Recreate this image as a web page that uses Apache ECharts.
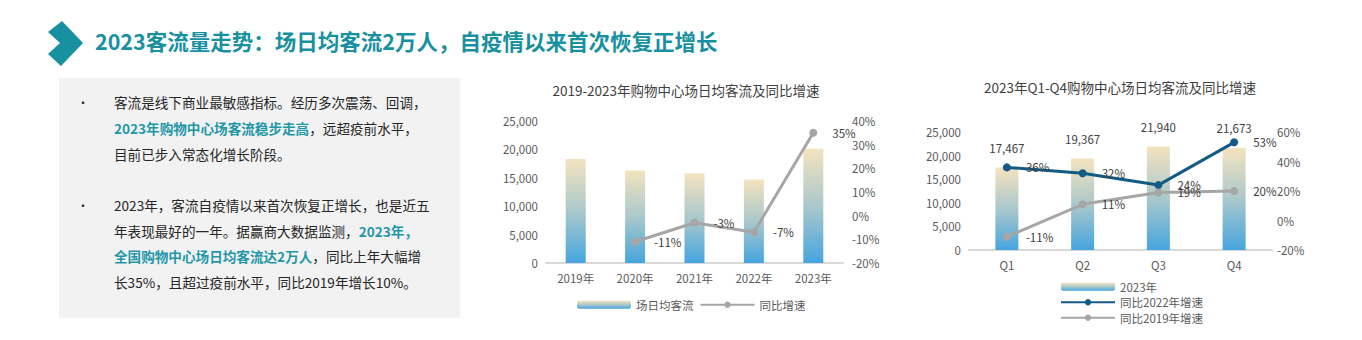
<!DOCTYPE html>
<html><head><meta charset="utf-8">
<script src="https://cdn.jsdelivr.net/npm/echarts@6/dist/echarts.min.js"></script>
<style>html,body{margin:0;padding:0;background:#fff}#c{width:1362px;height:340px}</style>
</head><body><div id="c"></div>
<script>
// ---- data ----
const years = ['2019年','2020年','2021年','2022年','2023年'];
const yearFlow = [18300, 16300, 15800, 14700, 20100];
const yearYoY = [null, -11, -3, -7, 35];
const quarters = ['Q1','Q2','Q3','Q4'];
const qFlow = [17467, 19367, 21940, 21673];
const qYoY2022 = [36, 32, 24, 53];
const qYoY2019 = [-11, 11, 19, 20];
const leftTicks = {min:0, max:25000, interval:5000};
const right1Ticks = {min:-20, max:40, interval:10};
const right2Ticks = {min:-20, max:60, interval:20};

const FONT = "'Noto Sans CJK SC', sans-serif";
const TEAL = '#17909f';
const HL = '#1f97a8';
const TXT = '#262626';
const AX = '#595959';

const barGrad = new echarts.graphic.LinearGradient(0,0,0,1,[
  {offset:0,color:'#f4e3bf'},{offset:0.5,color:'#aac8cb'},{offset:1,color:'#45a5df'}]);

const fmtK = v => v.toString().replace(/\B(?=(\d{3})+(?!\d))/g, ',');

function yLeft(gi, ticks){
  return {type:'value', gridIndex:gi, position:'left', min:ticks.min, max:ticks.max, interval:ticks.interval,
    axisLine:{show:false}, axisTick:{show:false}, splitLine:{show:false},
    axisLabel:{color:AX, fontSize:11.5, fontFamily:FONT, margin:8, formatter:fmtK}};
}
function yRight(gi, ticks, m){
  return {type:'value', gridIndex:gi, position:'right', min:ticks.min, max:ticks.max, interval:ticks.interval,
    axisLine:{show:false}, axisTick:{show:false}, splitLine:{show:false},
    axisLabel:{color:AX, fontSize:11.5, fontFamily:FONT, margin:m, formatter:'{value}%'}};
}
function xCat(gi, data){
  return {type:'category', gridIndex:gi, data:data,
    axisLine:{lineStyle:{color:'#d9d9d9', width:2}}, axisTick:{show:false},
    axisLabel:{color:AX, fontSize:11.5, fontFamily:FONT, margin:9}};
}

// left text panel lines
const bodyLines = [
  {y:104, t:'客流是线下商业最敏感指标。经历多次震荡、回调，'},
  {y:130, t:'{h|2023年购物中心场客流稳步走高}，远超疫前水平，'},
  {y:156, t:'目前已步入常态化增长阶段。'},
  {y:207, t:'2023年，客流自疫情以来首次恢复正增长，也是近五'},
  {y:233, t:'年表现最好的一年。据赢商大数据监测，{h|2023年，}'},
  {y:258, t:'{h|全国购物中心场日均客流达2万人}，同比上年大幅增'},
  {y:284, t:'长35%，且超过疫前水平，同比2019年增长10%。'}
];

const graphics = [
  {type:'polygon', shape:{points:[[62,21],[83,43],[61,66],[48,54],[60,43],[48,32]]}, style:{fill:TEAL}},
  {type:'text', left:95, top:30, style:{text:'2023客流量走势：场日均客流2万人，自疫情以来首次恢复正增长',
    fill:TEAL, font:'bold 21.5px '+FONT}},
  {type:'rect', shape:{x:59, y:78, width:401, height:240}, style:{fill:'#f2f2f2'}, z:-1},
  {type:'text', left:77, top:96, style:{text:'•', fill:TXT, font:'12px '+FONT}},
  {type:'text', left:77, top:199, style:{text:'•', fill:TXT, font:'12px '+FONT}}
];
bodyLines.forEach(l => graphics.push({type:'text', left:114, top:l.y-9,
  style:{text:l.t, fill:TXT, font:'13.6px '+FONT,
    rich:{h:{fill:HL, fontWeight:'bold', fontSize:13.6, fontFamily:FONT}}}}));

const chart = echarts.init(document.getElementById('c'), null, {renderer:'svg'});
chart.setOption({
  animation:false,
  textStyle:{fontFamily:FONT},
  title:[
    {text:'2019-2023年购物中心场日均客流及同比增速', left:681, top:78, textAlign:'center',
      textStyle:{fontSize:13.5, fontWeight:'normal', color:'#404040', fontFamily:FONT}},
    {text:'2023年Q1-Q4购物中心场日均客流及同比增速', left:1115, top:75, textAlign:'center',
      textStyle:{fontSize:13.5, fontWeight:'normal', color:'#404040', fontFamily:FONT}}
  ],
  legend:[
    {data:['场日均客流','同比增速'], left:572, top:294, itemWidth:54, itemHeight:8, itemGap:6,
      textStyle:{color:AX, fontSize:11.5, fontFamily:FONT}},
    {data:['2023年','同比2022年增速','同比2019年增速'], orient:'vertical', left:1055, top:276,
      itemWidth:54, itemHeight:8, itemGap:4, textStyle:{color:AX, fontSize:11.5, fontFamily:FONT}}
  ],
  grid:[
    {left:546, right:519, top:121, bottom:77},
    {left:969, right:90, top:132, bottom:90}
  ],
  xAxis:[xCat(0, years), xCat(1, quarters)],
  yAxis:[yLeft(0,leftTicks), yRight(0,right1Ticks,9), yLeft(1,leftTicks), yRight(1,right2Ticks,5)],
  series:[
    {name:'场日均客流', type:'bar', xAxisIndex:0, yAxisIndex:0, data:yearFlow, barWidth:20,
      itemStyle:{color:barGrad}},
    {name:'同比增速', type:'line', xAxisIndex:0, yAxisIndex:1, data:yearYoY, symbol:'circle', symbolSize:8,
      lineStyle:{color:'#a6a6a6', width:3}, itemStyle:{color:'#a6a6a6'},
      label:{show:true, position:'right', distance:15, formatter:'{c}%', color:'#404040', fontSize:11.5, fontFamily:FONT}},
    {name:'2023年', type:'bar', xAxisIndex:1, yAxisIndex:2, data:qFlow, barWidth:23,
      itemStyle:{color:barGrad},
      label:{show:true, position:'top', distance:14, color:'#404040', fontSize:11.5, fontFamily:FONT,
        formatter:p => fmtK(p.value)}},
    {name:'同比2022年增速', type:'line', xAxisIndex:1, yAxisIndex:3, data:qYoY2022, symbol:'circle', symbolSize:8,
      lineStyle:{color:'#135a84', width:3}, itemStyle:{color:'#135a84'},
      label:{show:true, position:'right', distance:15, formatter:'{c}%', color:'#404040', fontSize:11.5, fontFamily:FONT}},
    {name:'同比2019年增速', type:'line', xAxisIndex:1, yAxisIndex:3, data:qYoY2019, symbol:'circle', symbolSize:8,
      lineStyle:{color:'#a6a6a6', width:3}, itemStyle:{color:'#a6a6a6'},
      label:{show:true, position:'right', distance:15, formatter:'{c}%', color:'#404040', fontSize:11.5, fontFamily:FONT}}
  ],
  graphic:graphics
});
</script></body></html>
